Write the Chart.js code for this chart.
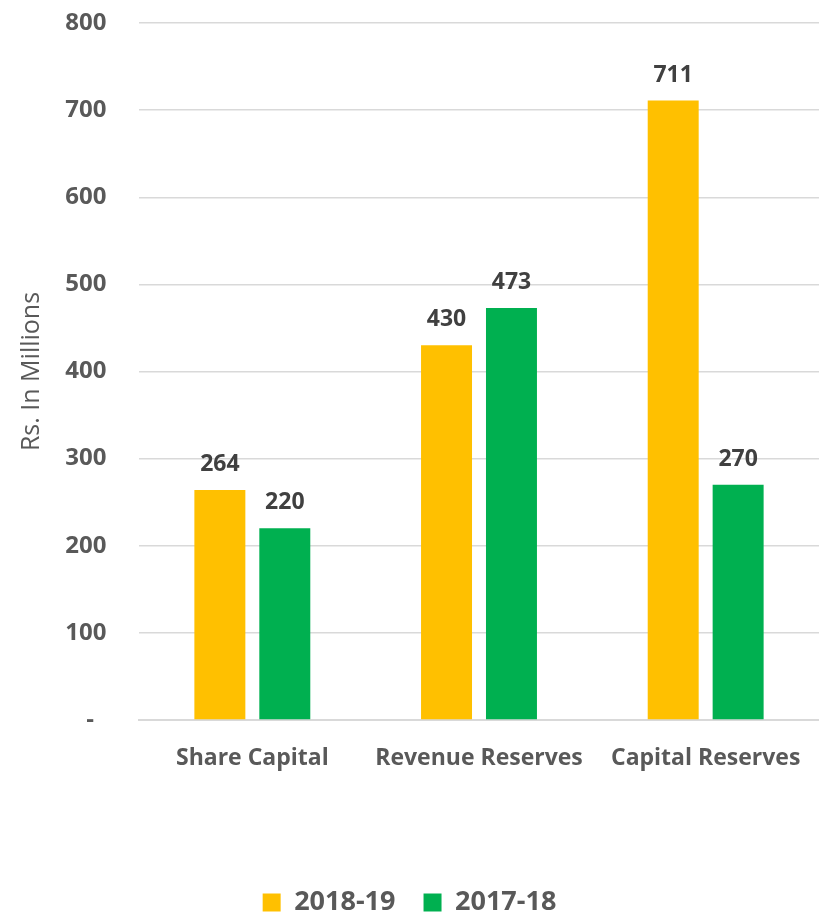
<!DOCTYPE html>
<html>
<head>
<meta charset="utf-8">
<script src="https://cdn.jsdelivr.net/npm/chart.js@4/dist/chart.umd.min.js"></script>
<style>
  html, body { margin: 0; padding: 0; background: #fff; }
  #wrap { width: 819px; height: 918px; }
</style>
</head>
<body>
<div id="wrap"><canvas id="chart"></canvas></div>
<script>
// データ
const categories = ['Share Capital', 'Revenue Reserves', 'Capital Reserves'];
const values1819 = [264, 430, 711];
const values1718 = [220, 473, 270];
const seriesNames = ['2018-19', '2017-18'];

const FONT = "'Open Sans', 'Noto Sans', sans-serif";

// 棒の上に値を描く
const valueLabels = {
  id: 'valueLabels',
  afterDatasetsDraw(chart) {
    const ctx = chart.ctx;
    ctx.save();
    ctx.font = "bold 23px " + FONT;
    ctx.fillStyle = '#404040';
    ctx.textAlign = 'center';
    ctx.textBaseline = 'alphabetic';
    chart.data.datasets.forEach((ds, i) => {
      chart.getDatasetMeta(i).data.forEach((bar, j) => {
        ctx.fillText(ds.data[j], bar.x, bar.y - 19);
      });
    });
    ctx.restore();
  }
};

// 凡例の下の余白(10px)を詰める
const legendTight = {
  id: 'legendTight',
  beforeLayout(chart) {
    const lg = chart.legend;
    if (lg && !lg._tight) {
      const fit = lg.fit;
      lg.fit = function () { fit.call(this); this.height -= 8; };
      lg._tight = true;
    }
  }
};

new Chart(document.getElementById('chart'), {
  type: 'bar',
  data: {
    labels: categories,
    datasets: [
      { label: seriesNames[0], data: values1819, backgroundColor: '#FFC000' },
      { label: seriesNames[1], data: values1718, backgroundColor: '#00B050' }
    ]
  },
  options: {
    responsive: true,
    maintainAspectRatio: false,
    animation: false,
    categoryPercentage: 0.573,
    barPercentage: 0.785,
    layout: { autoPadding: false, padding: { top: 0, right: 0, bottom: 0 } },
    plugins: {
      legend: {
        position: 'bottom',
        labels: {
          boxWidth: 18,
          boxHeight: 18,
          padding: 0,
          color: '#595959',
          font: { family: FONT, size: 27, weight: 'bold', lineHeight: 1 },
          generateLabels(chart) {
            const items = Chart.defaults.plugins.legend.labels.generateLabels(chart);
            items[0].text += '    ';
            return items;
          }
        }
      },
      tooltip: { enabled: false }
    },
    scales: {
      x: {
        grid: { display: false },
        border: { color: '#d9d9d9', width: 2 },
        ticks: {
          color: '#595959',
          padding: 17,
          font: { family: FONT, size: 23, weight: 'bold' }
        },
        afterFit(scale) { scale.height = 169; }
      },
      y: {
        min: 0,
        max: 800,
        ticks: {
          stepSize: 100,
          color: '#595959',
          padding: 8.6,
          font: { family: FONT, size: 24, weight: 'bold' },
          callback: v => v === 0 ? '-  ' : v
        },
        grid: { color: '#d9d9d9', lineWidth: 1.5, drawTicks: true, tickLength: 24, tickColor: 'rgba(0,0,0,0)' },
        border: { display: false },
        title: {
          display: true,
          text: 'Rs. In Millions',
          color: '#595959',
          font: { family: FONT, size: 25 },
          padding: { top: 17, bottom: 0 }
        },
        afterFit(scale) { scale.width = 139; }
      }
    }
  },
  plugins: [valueLabels, legendTight]
});
</script>
</body>
</html>
